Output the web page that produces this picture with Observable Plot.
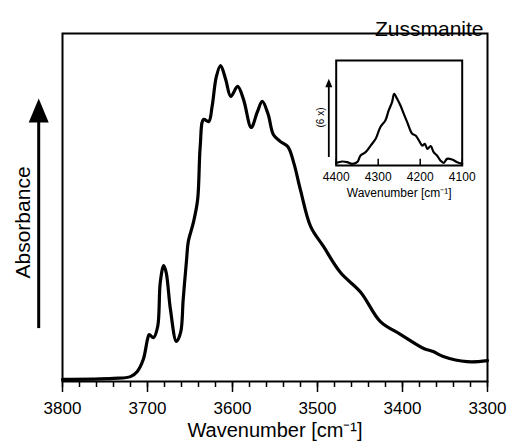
<!DOCTYPE html>
<html>
<head>
<meta charset="utf-8">
<script src="https://cdn.jsdelivr.net/npm/d3@7"></script>
<script src="https://cdn.jsdelivr.net/npm/@observablehq/plot@0.6"></script>
<style>
  html, body { margin: 0; padding: 0; background: white; }
  #chart { position: relative; width: 509px; height: 445px; }
</style>
</head>
<body>
<div id="chart"></div>
<script>
// Main spectrum (wavenumber in cm-1, absorbance in arbitrary units 0-100)
const mainWavenumber = [3800, 3740, 3720, 3712, 3705, 3700, 3698, 3693, 3688, 3685, 3681, 3678, 3673, 3666, 3661, 3658, 3654, 3652, 3646, 3641, 3638, 3634, 3628, 3624, 3619, 3614, 3608, 3602, 3594, 3587, 3578, 3571, 3565, 3558, 3552, 3544, 3535, 3528, 3520, 3508, 3493, 3473, 3449, 3426, 3402, 3375, 3364, 3352, 3324, 3300];
const mainAbsorbance = [0.6, 0.9, 1.4, 2.9, 6.3, 12.1, 13.5, 12.6, 15.8, 28.4, 33.3, 31.3, 20.7, 11.5, 14.1, 23.6, 35.1, 40.2, 45.7, 52.3, 67.5, 75.3, 74.7, 79.0, 87.6, 90.8, 86.8, 81.9, 84.8, 81.0, 73.0, 77.3, 80.5, 76.7, 71.0, 69.0, 67.5, 62.9, 55.0, 44.5, 38.8, 31.3, 25.6, 17.2, 13.5, 9.5, 8.6, 7.2, 5.7, 6.0];
const mainTicks = [3800, 3700, 3600, 3500, 3400, 3300];
const mainMinorTicks = d3.range(3300, 3801, 20);

// Inset spectrum (6x)
const insetWavenumber = [4400, 4386, 4374, 4362, 4350, 4342, 4330, 4318, 4306, 4295, 4283, 4275, 4267, 4262, 4255, 4247, 4239, 4231, 4219, 4211, 4203, 4195, 4189, 4183, 4175, 4168, 4160, 4152, 4144, 4136, 4124, 4112, 4100];
const insetAbsorbance = [2.5, 3.8, 3.2, 1.6, 3.2, 9.5, 12.7, 19.0, 25.4, 36.5, 42.9, 52.4, 60.3, 68.3, 63.5, 57.1, 49.2, 41.3, 30.2, 28.6, 23.8, 19.0, 20.6, 15.9, 18.4, 12.7, 9.5, 4.8, 2.5, 6.3, 5.7, 3.2, 1.6];
const insetTicks = [4400, 4300, 4200, 4100];

const mainData = mainWavenumber.map((w, i) => ({w, a: mainAbsorbance[i]}));
const insetData = insetWavenumber.map((w, i) => ({w, a: insetAbsorbance[i]}));

const font = "'Liberation Sans', Arial, Helvetica, sans-serif";

// Elongated filled arrow head
const arrowHead = {
  draw(context, size) {
    const r = Math.sqrt(size / Math.PI);
    context.moveTo(0, -1.2 * r);
    context.lineTo(r, 1.2 * r);
    context.lineTo(-r, 1.2 * r);
    context.closePath();
  }
};

const main = Plot.plot({
  width: 509,
  height: 445,
  marginLeft: 62,
  marginRight: 22,
  marginTop: 33,
  marginBottom: 64,
  style: {fontFamily: font, background: "white", color: "black", overflow: "visible"},
  x: {domain: [3800, 3300]},
  y: {domain: [0, 100], axis: null},
  marks: [
    Plot.frame({strokeWidth: 2}),
    Plot.axisX({ticks: mainMinorTicks, tickSize: 6, tickFormat: () => "", strokeWidth: 1.5, label: null}),
    Plot.axisX({ticks: mainTicks, tickSize: 11, tickPadding: 9, fontSize: 17, strokeWidth: 1.5, label: null, tickFormat: d => String(d)}),
    Plot.line(mainData, {x: "w", y: "a", stroke: "black", strokeWidth: 3.2, curve: "catmull-rom"}),
    Plot.text(["Wavenumber [cm⁻¹]"], {text: d => d, frameAnchor: "bottom", dy: 55, fontSize: 20}),
    Plot.text(["Zussmanite"], {text: d => d, frameAnchor: "top-right", textAnchor: "end", dx: -4, dy: -12, fontSize: 21}),
    Plot.text([{x: 3846, y: 45.7, t: "Absorbance"}], {x: "x", y: "y", text: "t", rotate: -90, fontSize: 21}),
    Plot.ruleX([3828], {y1: 15.2, y2: 76, strokeWidth: 3}),
    Plot.dot([{x: 3828, y: 77.9}], {x: "x", y: "y", symbol: arrowHead, r: 10, fill: "black", stroke: null})
  ]
});

const inset = Plot.plot({
  width: 180,
  height: 155,
  marginLeft: 35.7,
  marginRight: 18.3,
  marginTop: 10,
  marginBottom: 40,
  style: {fontFamily: font, background: "transparent", color: "black", overflow: "visible"},
  x: {domain: [4400, 4100]},
  y: {domain: [0, 100], axis: null},
  marks: [
    Plot.frame({strokeWidth: 2}),
    Plot.ruleX(insetTicks, {y1: 0, y2: 6, strokeWidth: 1.5}),
    Plot.axisX({ticks: insetTicks, tickSize: 0, tickPadding: 7, fontSize: 12, label: null, tickFormat: d => String(d)}),
    Plot.line(insetData, {x: "w", y: "a", stroke: "black", strokeWidth: 2.2, curve: "catmull-rom"}),
    Plot.text(["Wavenumber [cm⁻¹]"], {text: d => d, frameAnchor: "bottom", dy: 31, fontSize: 12}),
    Plot.text([{x: 4437.4, y: 45.7, t: "(6 x)"}], {x: "x", y: "y", text: "t", rotate: -90, fontSize: 10}),
    Plot.ruleX([4417.6], {y1: 7.6, y2: 75.5, strokeWidth: 1.8}),
    Plot.dot([{x: 4417.6, y: 78.6}], {x: "x", y: "y", symbol: arrowHead, r: 3.5, fill: "black", stroke: null})
  ]
});

const chart = document.getElementById("chart");
main.style.position = "absolute";
main.style.left = "0px";
main.style.top = "0px";
inset.style.position = "absolute";
inset.style.left = "300px";
inset.style.top = "50px";
chart.appendChild(main);
chart.appendChild(inset);
</script>
</body>
</html>
